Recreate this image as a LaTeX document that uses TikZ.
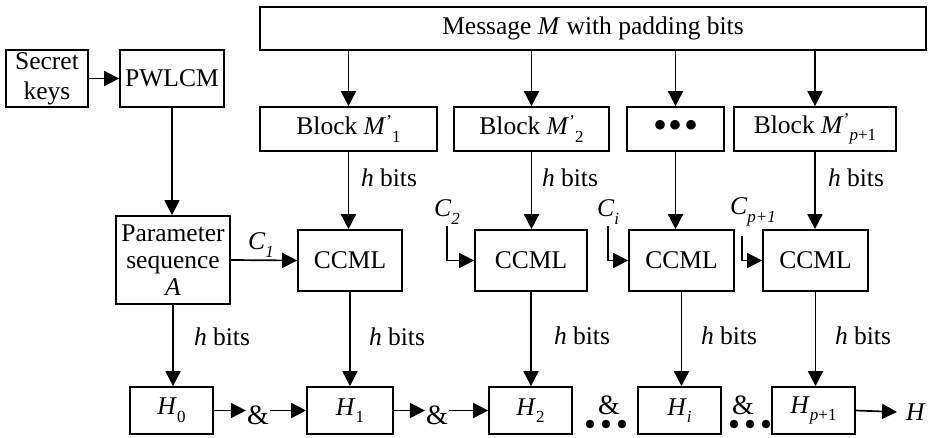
\documentclass[tikz,border=0pt]{standalone}
\usepackage{fontspec}
\setmainfont{Liberation Serif}
\usetikzlibrary{arrows.meta}
\newcommand\lo[1]{\raisebox{-0.3em}{\fontsize{17}{17}\selectfont #1}}
\newcommand\pr{\raisebox{0.3em}{\fontsize{18}{18}\selectfont ’}}
\newcommand\dts{{\fontsize{40}{40}\selectfont •\kern1.5pt•\kern1.5pt•}}
\begin{document}
\begin{tikzpicture}[x=1pt,y=-1pt,
  box/.style={draw, line width=1.7pt, inner sep=0pt, align=center, font=\fontsize{25.5}{29}\selectfont},
  lbl/.style={inner sep=0pt, font=\fontsize{25.5}{29}\selectfont},
  amp/.style={inner sep=1pt, font=\fontsize{28}{28}\selectfont},
  arr/.style={line width=1.7pt, -{Triangle[length=15pt,width=15pt]}},
  ln/.style={line width=1.7pt}]
\useasboundingbox (0,0) rectangle (932,437);

% top row
\node[box, minimum width=82pt, minimum height=57pt, font=\fontsize{25.5}{30}\selectfont] (sk) at (47,78.5) {Secret\\keys};
\node[box, minimum width=104pt, minimum height=57pt] (pw) at (172,78.5) {PWLCM};
\node[box, minimum width=666pt, minimum height=43pt] (msg) at (593,28.5) {Message \textit{M} with padding bits};

% blocks
\node[box, minimum width=177pt, minimum height=44pt] (b1) at (348.5,129) {Block \textit{M}\pr\lo{1}};
\node[box, minimum width=155pt, minimum height=44pt] (b2) at (531.5,129) {Block \textit{M}\pr\lo{2}};
\node[box, minimum width=97pt, minimum height=44pt] (b3) at (675.5,129) {\dts};
\node[box, minimum width=162pt, minimum height=44pt] (b4) at (815,129) {Block \textit{M}\pr\lo{\textit{p}+1}};

% parameter and CCML
\node[box, minimum width=114pt, minimum height=88pt, font=\fontsize{25.5}{27}\selectfont] (par) at (173,260) {Parameter\\sequence\\\textit{A}};
\node[box, minimum width=104pt, minimum height=61pt] (c1) at (350,260.5) {CCML};
\node[box, minimum width=112pt, minimum height=61pt] (c2) at (531,260.5) {CCML};
\node[box, minimum width=105pt, minimum height=61pt] (c3) at (681.5,260.5) {CCML};
\node[box, minimum width=105pt, minimum height=61pt] (c4) at (815.5,260.5) {CCML};

% H boxes
\node[box, minimum width=83pt, minimum height=47pt] (h0) at (171.5,410.5) {\textit{H}\lo{0}};
\node[box, minimum width=86pt, minimum height=47pt] (h1) at (350,410.5) {\textit{H}\lo{1}};
\node[box, minimum width=83pt, minimum height=47pt] (h2) at (530.5,410.5) {\textit{H}\lo{2}};
\node[box, minimum width=83pt, minimum height=47pt] (hi) at (679.5,410.5) {\textit{H}\lo{\textit{i}}};
\node[box, minimum width=83pt, minimum height=47pt] (hp) at (813.5,410.5) {\textit{H}\lo{\textit{p}+1}};
\node[lbl, inner xsep=9pt] (hout) at (916,412) {\textit{H}};

% ampersands and dots
\node[amp] (a1) at (258,415) {\&};
\node[amp] (a2) at (437,415) {\&};
\node[amp] (a3) at (609,405) {\&};
\node[amp] (a4) at (743,405) {\&};
\foreach \x in {590,606,622,734,750,766}
  \fill (\x,424) circle (4.3pt);

% labels
\node[lbl] (lc1) at (261,245) {\textit{C}\lo{\textit{1}}};
\node[lbl] (lc2) at (447,212) {\textit{C}\lo{\textit{2}}};
\node[lbl] (lci) at (608,212) {\textit{C}\lo{\textit{i}}};
\node[lbl] (lcp) at (753,212) {\textit{C}\lo{\textit{p+1}}};

\node[lbl] (hb1) at (389,178) {\textit{h} bits};
\node[lbl] (hb2) at (570,178) {\textit{h} bits};
\node[lbl] (hb4) at (856,178) {\textit{h} bits};
\node[lbl] (hl0) at (222,337) {\textit{h} bits};
\node[lbl] (hl1) at (397,337) {\textit{h} bits};
\node[lbl] (hl2) at (582,336) {\textit{h} bits};
\node[lbl] (hl3) at (729,336) {\textit{h} bits};
\node[lbl] (hl4) at (863,336) {\textit{h} bits};

\coordinate (s2) at (447,226);
\coordinate (si) at (608,226);
\coordinate (sp) at (742,236);

% connectors
\draw[arr] (sk) -- (pw);
\draw[arr] (pw.south) -- (pw.south |- par.north);
\draw[arr] (msg.south -| b1) -- (b1.north);
\draw[arr] (msg.south -| b2) -- (b2.north);
\draw[arr] (msg.south -| b3) -- (b3.north);
\draw[arr] (msg.south -| b4) -- (b4.north);
\draw[arr] (b1.south) -- (b1.south |- c1.north);
\draw[arr] (b2.south) -- (b2.south |- c2.north);
\draw[arr] (b3.south) -- (b3.south |- c3.north);
\draw[arr] (b4.south) -- (b4.south |- c4.north);
\draw[arr] (par.east) -- (c1.west);
\draw[arr] (s2) |- (c2.west);
\draw[arr] (si) |- (c3.west);
\draw[arr] (sp) |- (c4.west);
\draw[arr] (par.south) -- (par.south |- h0.north);
\draw[arr] (c1.south) -- (c1.south |- h1.north);
\draw[arr] (c2.south) -- (c2.south |- h2.north);
\draw[arr] (c3.south) -- (c3.south |- hi.north);
\draw[arr] (c4.south) -- (c4.south |- hp.north);
\draw[arr] (h0.east) -- (h0.east -| a1.west);
\draw[arr] (a1.east |- h1.west) -- (h1.west);
\draw[arr] (h1.east) -- (h1.east -| a2.west);
\draw[arr] (a2.east |- h2.west) -- (h2.west);
\draw[arr] (hp.east) -- (hout.west);
\end{tikzpicture}
\end{document}
